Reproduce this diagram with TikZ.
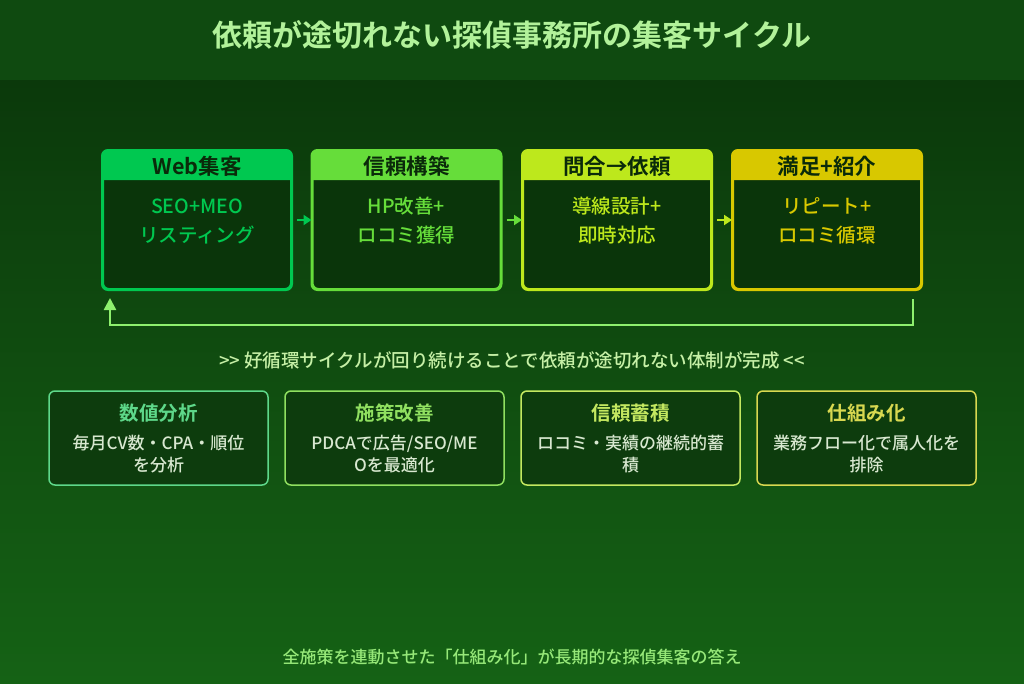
\documentclass[tikz,border=0pt]{standalone}
\usepackage{fontspec}
\setmainfont{Noto Sans CJK JP}[UprightFont={* Medium}, BoldFont={* Bold}]
\usepackage{tikz}
\usetikzlibrary{calc,positioning,arrows.meta}
\definecolor{colorhead}{HTML}{0F4A10}
\definecolor{colortop}{HTML}{0B390B}
\definecolor{colorbot}{HTML}{156215}
\definecolor{colorbody}{HTML}{0A350A}
\definecolor{colorcard}{HTML}{0D3C0D}
\definecolor{colortitle}{HTML}{B2F29A}
\definecolor{colorsub}{HTML}{C6F0A6}
\definecolor{colorfoot}{HTML}{96E878}
\definecolor{colorloop}{HTML}{8EF06E}
\definecolor{colorink}{HTML}{0A2A0A}
\definecolor{colorweb}{HTML}{00C850}
\definecolor{colortrust}{HTML}{66DD3A}
\definecolor{colorask}{HTML}{BDE81C}
\definecolor{colorsat}{HTML}{D8C800}
\definecolor{colornum}{HTML}{5ED88A}
\definecolor{colorpdca}{HTML}{90E060}
\definecolor{colorstock}{HTML}{C4E860}
\definecolor{colorsys}{HTML}{D8D850}
\definecolor{colortext}{HTML}{D8E8D0}
\tikzset{
  stepbox/.style={draw=#1, fill=colorbody, line width=2pt, rounded corners=6pt,
    minimum width=188pt, minimum height=138pt, inner sep=0pt},
  steplabel/.style={text=colorink, font=\fontsize{21.5}{24}\selectfont\bfseries},
  stepbody/.style={text=#1, align=center, font=\fontsize{19.5}{29}\selectfont},
  cardbox/.style={draw=#1, fill=colorcard, line width=1.5pt, rounded corners=6pt,
    minimum width=219pt, minimum height=94pt, align=center,
    font=\fontsize{17}{22}\selectfont, text=colortext},
  edgestep/.style={#1, line width=2pt, shorten <=5pt, -{Triangle[length=8pt,width=10pt]}},
  edgeloop/.style={colorloop, line width=2.5pt, -{Triangle[length=12pt,width=12pt]}}
}
\newcommand\cardtitle[2]{{\fontsize{19.5}{22}\selectfont\bfseries\color{#1}#2}\\[7pt]}

\begin{document}
\begin{tikzpicture}[x=1pt, y=-1pt]
\useasboundingbox (0,0) rectangle (1024,683);
% background
\shade[top color=colortop, bottom color=colorbot] (0,80) rectangle (1024,683);
\fill[colorhead] (0,0) rectangle (1024,80);
\node[text=colortitle, font=\fontsize{30}{34}\selectfont\bfseries] (title) at (512,35) {依頼が途切れない探偵事務所の集客サイクル};
% cycle steps
\foreach \n/\x/\c/\head/\body in {
  web/197/colorweb/Web集客/{SEO+MEO\\リスティング},
  trust/406.5/colortrust/信頼構築/{HP改善+\\ロコミ獲得},
  ask/617/colorask/問合→依頼/{導線設計+\\即時対応},
  sat/827/colorsat/満足+紹介/{リピート+\\ロコミ循環}}{
  \node[stepbox=\c] (\n) at (\x,220) {};
  \fill[\c] ([yshift=-30pt]\n.north west) [rounded corners=6pt] |- (\n.north east)
    [sharp corners] |- cycle;
  \draw[\c, line width=2pt, rounded corners=6pt] (\n.north west) rectangle (\n.south east);
  \node[steplabel] (\n-head) at (\x,166) {\head};
  \node[stepbody=\c] (\n-body) at (\x,221) {\body};
}
\draw[edgestep=colorweb] (web) -- (trust);
\draw[edgestep=colortrust] (trust) -- (ask);
\draw[edgestep=colorask] (ask) -- (sat);
% loop back
\coordinate (loopy) at (0,325);
\coordinate (loopa) at ([xshift=-9pt,yshift=-9pt]sat.south east);
\coordinate (loopb) at ([xshift=8pt,yshift=-8pt]web.south west);
\draw[edgeloop] (loopa) -- (loopa |- loopy) -- (loopb |- loopy) -- (loopb);
\node[text=colorsub, font=\fontsize{18.5}{20}\selectfont] (motto) at (512,360) {>{}> 好循環サイクルが回り続けることで依頼が途切れない体制が完成 <{}<};
% cards
\node[cardbox=colornum] (num) at (158.5,438) {\cardtitle{colornum}{数値分析}毎月CV数・CPA・順位\\を分析};
\node[cardbox=colorpdca] (pdca) at (394.5,438) {\cardtitle{colorpdca}{施策改善}PDCAで広告/SEO/ME\\Oを最適化};
\node[cardbox=colorstock] (stock) at (630.5,438) {\cardtitle{colorstock}{信頼蓄積}ロコミ・実績の継続的蓄\\積};
\node[cardbox=colorsys] (sys) at (866.5,438) {\cardtitle{colorsys}{仕組み化}業務フロー化で属人化を\\排除};
\node[text=colorfoot, font=\fontsize{17}{20}\selectfont] (foot) at (512,657) {全施策を連動させた「仕組み化」が長期的な探偵集客の答え};
\end{tikzpicture}
\end{document}
